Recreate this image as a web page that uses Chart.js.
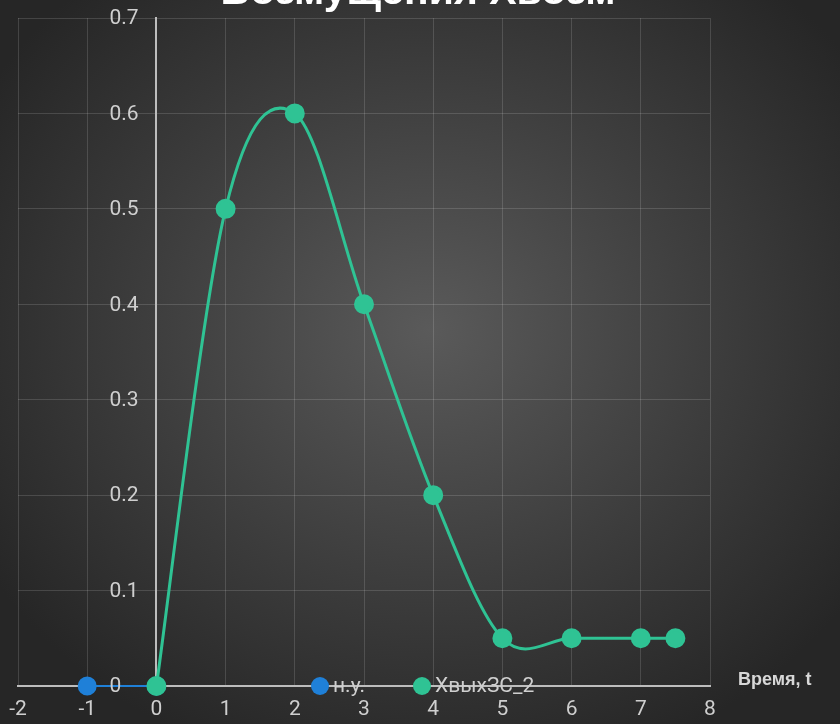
<!DOCTYPE html>
<html>
<head>
<meta charset="utf-8">
<script src="https://cdn.jsdelivr.net/npm/chart.js@4/dist/chart.umd.min.js"></script>
<style>
  html, body { margin: 0; padding: 0; }
  body {
    width: 840px; height: 724px; overflow: hidden;
    background: radial-gradient(ellipse 520px 460px at 430px 330px, #5a5a5a 0%, #3d3d3d 55%, #262626 100%);
  }
  #wrap { position: relative; width: 840px; height: 724px; }
</style>
</head>
<body>
<div id="wrap"><canvas id="chart" width="840" height="724"></canvas></div>
<script>
const chartTitle = 'Возмущения Хвозм';
const axisTitleX = 'Время, t';
const seriesNames = ['н.у.', 'ХвыхЗС_2'];
const seriesColors = ['#1f80d8', '#2fc394'];

const nuX = [-1, 0];
const nuY = [0, 0];
const outX = [0, 1, 2, 3, 4, 5, 6, 7, 7.5];
const outY = [0, 0.5, 0.6, 0.4, 0.2, 0.05, 0.05, 0.05, 0.05];

const xTicks = [-2, -1, 0, 1, 2, 3, 4, 5, 6, 7, 8];
const yTicks = [0, 0.1, 0.2, 0.3, 0.4, 0.5, 0.6, 0.7];

const tickFont = '"Roboto", "Liberation Sans", sans-serif';
const labelColor = '#cfcfcf';

function toPoints(xs, ys) {
    return xs.map((x, i) => ({ x: x, y: ys[i] }));
}

// spreadsheet-style smoothing: handles are 1/6 of the neighbour chord
const smoothing = {
    id: 'smoothing',
    beforeDatasetsDraw(chart) {
        chart.data.datasets.forEach((ds, i) => {
            if (!ds.smooth) return;
            const meta = chart.getDatasetMeta(i);
            meta.dataset.updateControlPoints(chart.chartArea, 'x');
            const pts = meta.data;
            pts.forEach((p, k) => {
                const prev = pts[Math.max(k - 1, 0)];
                const next = pts[Math.min(k + 1, pts.length - 1)];
                const dx = (next.x - prev.x) / 6;
                const dy = (next.y - prev.y) / 6;
                p.cp1x = p.x - dx; p.cp1y = p.y - dy;
                p.cp2x = p.x + dx; p.cp2y = p.y + dy;
            });
        });
    }
};

// title, y labels, legend and axis name drawn on top
const overlay = {
    id: 'overlay',
    afterDraw(chart) {
        const ctx = chart.ctx;
        const xs = chart.scales.x;
        const ys = chart.scales.y;
        ctx.save();

        ctx.fillStyle = '#ffffff';
        ctx.font = 'bold 41px "Liberation Sans", Arial, sans-serif';
        ctx.textAlign = 'center';
        ctx.textBaseline = 'alphabetic';
        ctx.fillText(chartTitle, 418, 4);

        ctx.fillStyle = labelColor;
        ctx.font = '21px ' + tickFont;
        ctx.textAlign = 'left';
        ctx.textBaseline = 'middle';
        const left = xs.getPixelForValue(0) - 47;
        yTicks.forEach(v => {
            ctx.fillText(String(v), left, ys.getPixelForValue(v) + 1);
        });

        ctx.font = 'bold 18px "Liberation Sans", Arial, sans-serif';
        ctx.fillStyle = '#d8d8d8';
        ctx.fillText(axisTitleX, 738, 680);

        // legend
        const legendX = [320, 422];
        const ly = ys.getPixelForValue(0);
        ctx.font = '21px ' + tickFont;
        chart.data.datasets.forEach((ds, i) => {
            ctx.beginPath();
            ctx.arc(legendX[i], ly, 9, 0, Math.PI * 2);
            ctx.fillStyle = ds.pointBackgroundColor;
            ctx.fill();
            ctx.fillStyle = labelColor;
            ctx.fillText(ds.label, legendX[i] + 13, ly + 1);
        });
        ctx.restore();
    }
};

new Chart(document.getElementById('chart'), {
    type: 'line',
    data: {
        datasets: [
            {
                label: seriesNames[0],
                data: toPoints(nuX, nuY),
                borderColor: seriesColors[0],
                backgroundColor: seriesColors[0],
                pointBackgroundColor: seriesColors[0],
                pointBorderColor: seriesColors[0],
                borderWidth: 2,
                pointRadius: 8.5,
                tension: 0,
                clip: false,
                order: 1
            },
            {
                label: seriesNames[1],
                data: toPoints(outX, outY),
                borderColor: seriesColors[1],
                backgroundColor: seriesColors[1],
                pointBackgroundColor: seriesColors[1],
                pointBorderColor: seriesColors[1],
                borderWidth: 3,
                pointRadius: 8.5,
                tension: 0.3,
                smooth: true,
                clip: false,
                order: 0
            }
        ]
    },
    options: {
        responsive: false,
        animation: false,
        layout: { padding: { top: 18, left: 18, right: 130, bottom: 38 } },
        plugins: {
            legend: { display: false },
            title: { display: false },
            tooltip: { enabled: false }
        },
        scales: {
            x: {
                type: 'linear',
                min: -2,
                max: 8,
                position: { y: 0 },
                afterBuildTicks: (s) => { s.ticks = xTicks.map(v => ({ value: v })); },
                afterFit: (s) => { s.paddingLeft = 0; s.paddingRight = 0; },
                ticks: {
                    color: labelColor,
                    font: { family: tickFont, size: 21, lineHeight: 1 },
                    padding: 13,
                    maxRotation: 0
                },
                grid: { color: 'rgba(255,255,255,0.14)', drawTicks: false },
                border: { color: '#bdbdbd', width: 2 }
            },
            y: {
                type: 'linear',
                min: 0,
                max: 0.7,
                position: { x: 0 },
                afterBuildTicks: (s) => { s.ticks = yTicks.map(v => ({ value: v })); },
                ticks: { display: false },
                grid: { color: 'rgba(255,255,255,0.14)', drawTicks: false },
                border: { color: '#bdbdbd', width: 2 }
            }
        }
    },
    plugins: [smoothing, overlay]
});
</script>
</body>
</html>
